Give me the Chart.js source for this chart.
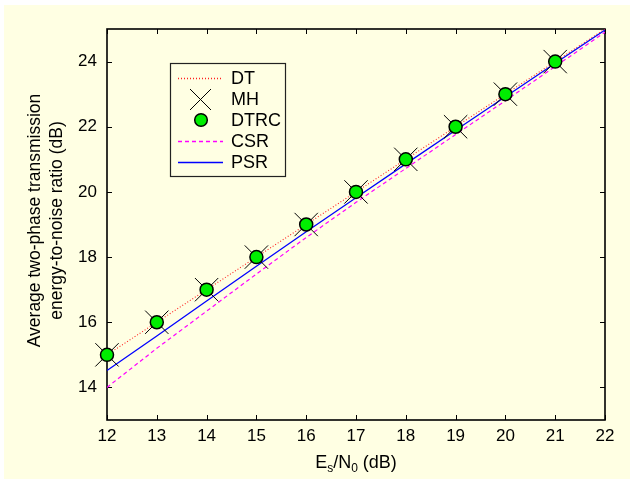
<!DOCTYPE html>
<html lang="en">
<head>
  <meta charset="UTF-8" />
  <script src="https://cdn.jsdelivr.net/npm/chart.js"></script>
  <title>Two-phase transmission SNR</title>
  <style>
    html, body { margin: 0; padding: 0; background: #fff; }
    #wrap { width: 630px; height: 479px; }
  </style>
</head>
<body>
  <div id="wrap"><canvas id="snrChart" width="630" height="479"></canvas></div>

  <script>
    // values
    const esn0 = [12, 13, 14, 15, 16, 17, 18, 19, 20, 21, 22];
    const dt   = [15, 16, 17, 18, 19, 20, 21, 22, 23, 24, 25];
    const markX = [12, 13, 14, 15, 16, 17, 18, 19, 20, 21];
    const mh   = [15, 16, 17, 18, 19, 20, 21, 22, 23, 24];
    const dtrc = [15, 16, 17, 18, 19, 20, 21, 22, 23, 24];
    const csr  = [14.0, 15.2, 16.34, 17.48, 18.6, 19.68, 20.72, 21.76, 22.8, 23.85, 24.9];
    const psr  = [14.52, 15.58, 16.65, 17.72, 18.78, 19.82, 20.86, 21.89, 22.92, 23.95, 24.97];
    const yTicks = [14, 16, 18, 20, 22, 24];
    const legendLabels = ['DT', 'MH', 'DTRC', 'CSR', 'PSR'];
    const lineColors = ['#ff2020', '#000000', '#00ee00', '#ff00ff', '#0000ff'];

    const BG = '#ffffe3';
    const FONT = '"Liberation Sans", Arial, sans-serif';

    const pts = (xs, ys) => xs.map((x, i) => ({ x: x, y: ys[i] }));

    const bgPlugin = {
      id: 'bg',
      beforeDraw(chart) {
        const c = chart.ctx;
        c.save();
        c.fillStyle = '#fff';
        c.fillRect(0, 0, chart.width, chart.height);
        c.fillStyle = BG;
        c.fillRect(4, 5, chart.width - 4, chart.height - 5);
        c.restore();
      }
    };

    // MATLAB-style box with inward ticks on all four sides
    const framePlugin = {
      id: 'frame',
      beforeDatasetsDraw(chart) {
        const c = chart.ctx, a = chart.chartArea;
        const xs = chart.scales.x, ys = chart.scales.y;
        const tl = 5;
        c.save();
        c.strokeStyle = '#000';
        c.lineWidth = 1;
        c.beginPath();
        xs.ticks.forEach(t => {
          const px = Math.round(xs.getPixelForValue(t.value)) + 0.5;
          c.moveTo(px, a.bottom); c.lineTo(px, a.bottom - tl);
          c.moveTo(px, a.top); c.lineTo(px, a.top + tl);
        });
        ys.ticks.forEach(t => {
          const py = Math.round(ys.getPixelForValue(t.value)) + 0.5;
          c.moveTo(a.left, py); c.lineTo(a.left + tl, py);
          c.moveTo(a.right, py); c.lineTo(a.right - tl, py);
        });
        c.stroke();
        c.lineWidth = 1.6;
        c.strokeRect(a.left, a.top, a.right - a.left, a.bottom - a.top);
        c.restore();
      }
    };

    const labelPlugin = {
      id: 'labels',
      afterDraw(chart) {
        const c = chart.ctx, a = chart.chartArea;
        c.save();
        c.fillStyle = '#000';

        // x axis title with subscripts
        const parts = [['E', 18, 0], ['s', 12, 4], ['/N', 18, 0], ['0', 12, 4], [' (dB)', 18, 0]];
        let w = 0;
        parts.forEach(p => { c.font = p[1] + 'px ' + FONT; w += c.measureText(p[0]).width; });
        let x = (a.left + a.right) / 2 - w / 2;
        c.textBaseline = 'alphabetic';
        c.textAlign = 'left';
        parts.forEach(p => {
          c.font = p[1] + 'px ' + FONT;
          c.fillText(p[0], x, 468 + p[2]);
          x += c.measureText(p[0]).width;
        });

        // y axis title, two lines
        c.translate(0, (a.top + a.bottom) / 2 - 4);
        c.rotate(-Math.PI / 2);
        c.font = '17.5px ' + FONT;
        c.textAlign = 'center';
        c.textBaseline = 'middle';
        c.fillText('Average two-phase transmission', 0, 35);
        c.fillText('energy-to-noise ratio (dB)', 0, 57);
        c.setTransform(1, 0, 0, 1, 0, 0);

        // legend box
        c.fillStyle = BG;
        c.fillRect(170, 63, 115, 113);
        c.strokeStyle = '#222';
        c.lineWidth = 1.2;
        c.strokeRect(170.5, 63.5, 115, 113);
        legendLabels.forEach((lab, i) => {
          const y = 78 + i * 21;
          c.save();
          if (i === 1) {
            c.strokeStyle = '#000';
            c.lineWidth = 1;
            c.beginPath();
            c.moveTo(190, y - 10); c.lineTo(211, y + 11);
            c.moveTo(211, y - 10); c.lineTo(190, y + 11);
            c.stroke();
          } else if (i === 2) {
            c.fillStyle = lineColors[i];
            c.strokeStyle = '#000';
            c.lineWidth = 1.5;
            c.beginPath();
            c.arc(201, y, 6.3, 0, Math.PI * 2);
            c.fill(); c.stroke();
          } else {
            c.strokeStyle = lineColors[i];
            c.lineWidth = i === 4 ? 1.5 : 1.3;
            c.setLineDash(i === 0 ? [1, 2] : i === 3 ? [4, 3] : []);
            c.beginPath();
            c.moveTo(178, y + 0.5); c.lineTo(223, y + 0.5);
            c.stroke();
          }
          c.restore();
          c.fillStyle = '#000';
          c.font = '18px ' + FONT;
          c.textAlign = 'left';
          c.textBaseline = 'middle';
          c.fillText(lab, 231, y + 1);
        });
        c.restore();
      }
    };

    const ctx = document.getElementById('snrChart').getContext('2d');
    new Chart(ctx, {
      type: 'scatter',
      data: {
        datasets: [
          {
            label: 'DT', data: pts(esn0, dt), showLine: true,
            borderColor: lineColors[0], borderWidth: 1.1, borderDash: [1, 2],
            pointRadius: 0, order: 5
          },
          {
            label: 'MH', data: pts(markX, mh), showLine: false,
            pointStyle: 'crossRot', pointRadius: 16.5, borderColor: '#000',
            pointBorderColor: '#000', pointBorderWidth: 1, clip: false, order: 2
          },
          {
            label: 'DTRC', data: pts(markX, dtrc), showLine: false,
            pointStyle: 'circle', pointRadius: 6.5, pointBackgroundColor: lineColors[2],
            pointBorderColor: '#000', pointBorderWidth: 1.5, clip: false, order: 1
          },
          {
            label: 'CSR', data: pts(esn0, csr), showLine: true,
            borderColor: lineColors[3], borderWidth: 1.2, borderDash: [4, 3],
            pointRadius: 0, order: 4
          },
          {
            label: 'PSR', data: pts(esn0, psr), showLine: true,
            borderColor: lineColors[4], borderWidth: 1.3,
            pointRadius: 0, order: 3
          }
        ]
      },
      options: {
        responsive: false,
        animation: false,
        events: [],
        layout: { padding: { top: 29, right: 25, left: 0, bottom: 0 } },
        plugins: { legend: { display: false }, tooltip: { enabled: false } },
        scales: {
          x: {
            type: 'linear', min: 12, max: 22,
            afterFit(s) { s.height = 59; },
            grid: { display: false, drawTicks: false },
            border: { display: false },
            ticks: { stepSize: 1, padding: 6, color: '#000', font: { family: FONT, size: 17 } }
          },
          y: {
            type: 'linear', min: 13, max: 25,
            afterFit(s) { s.width = 107; },
            afterBuildTicks(s) { s.ticks = yTicks.map(v => ({ value: v })); },
            grid: { display: false, drawTicks: false },
            border: { display: false },
            ticks: { padding: 10, color: '#000', font: { family: FONT, size: 17 } }
          }
        }
      },
      plugins: [bgPlugin, framePlugin, labelPlugin]
    });
  </script>
</body>
</html>
